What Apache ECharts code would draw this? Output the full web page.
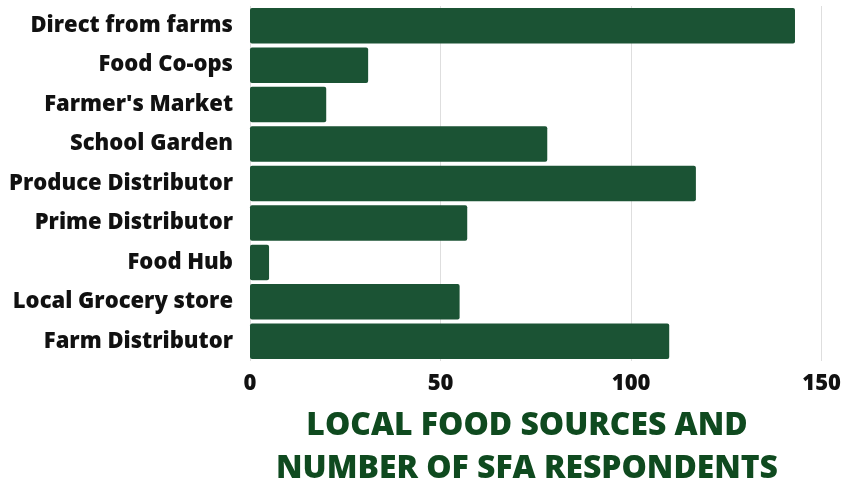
<!DOCTYPE html>
<html>
<head>
<meta charset="utf-8">
<script src="https://cdn.jsdelivr.net/npm/echarts@6/dist/echarts.min.js"></script>
<style>html,body{margin:0;padding:0;background:#fff}#c{width:844px;height:483px}</style>
</head>
<body>
<div id="c"></div>
<script>
const categories = ["Direct from farms","Food Co-ops","Farmer's Market","School Garden","Produce Distributor","Prime Distributor","Food Hub","Local Grocery store","Farm Distributor"];
const values = [143, 31, 20, 78, 117, 57, 5, 55, 110];
const xTicks = [0, 50, 100, 150];
const titleLines = ["LOCAL FOOD SOURCES AND", "NUMBER OF SFA RESPONDENTS"];

const chart = echarts.init(document.getElementById('c'));
chart.setOption({
  animation: false,
  title: {
    text: titleLines.join('\n'),
    left: 522, top: 399, textAlign: 'center',
    textStyle: { fontFamily: 'Open Sans', fontWeight: 800, fontSize: 31.85, color: '#0f4a1f', lineHeight: 43 }
  },
  grid: { left: 250, right: 20, top: 6, bottom: 122 },
  xAxis: {
    type: 'value', min: xTicks[0], max: xTicks[xTicks.length-1], interval: 50,
    axisLine: { show: false }, axisTick: { show: false },
    splitLine: { show: true, lineStyle: { color: '#dedede', width: 1 } },
    axisLabel: { fontFamily: 'Open Sans', fontWeight: 800, fontSize: 22, color: '#111', margin: 12 }
  },
  yAxis: {
    type: 'category', inverse: true, data: categories,
    axisLine: { show: false }, axisTick: { show: false },
    axisLabel: { fontFamily: 'Open Sans', fontWeight: 800, fontSize: 22, color: '#111', margin: 17 }
  },
  series: [{
    type: 'bar', data: values, barCategoryGap: '10%',
    itemStyle: { color: '#1b5334', borderRadius: 2 }
  }]
});
</script>
</body>
</html>
